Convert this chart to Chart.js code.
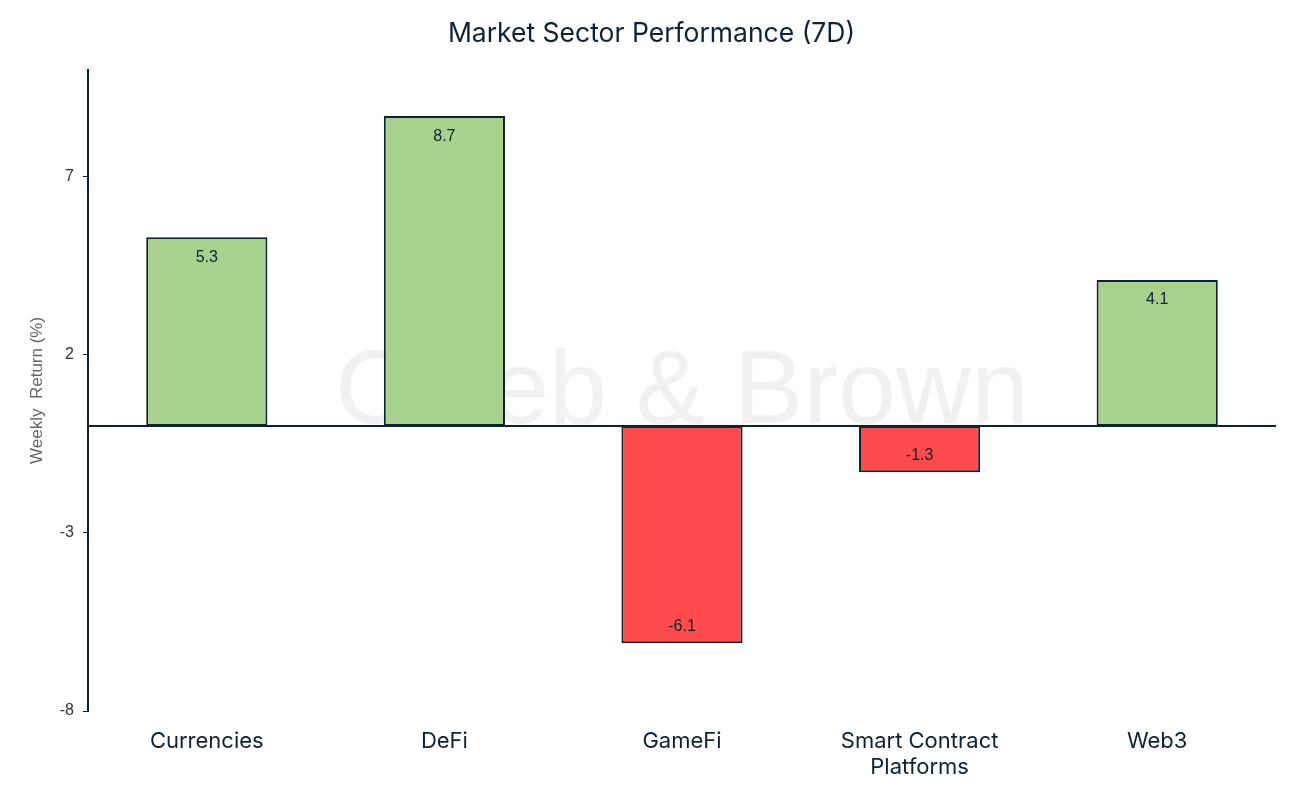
<!DOCTYPE html>
<html>
<head>
<meta charset="utf-8">
<script src="https://cdn.jsdelivr.net/npm/chart.js@4.4.0/dist/chart.umd.min.js"></script>
<style>
  html,body{margin:0;padding:0;background:#fff;}
  #wrap{width:1298px;height:792px;}
</style>
</head>
<body>
<div id="wrap"><canvas id="c"></canvas></div>
<script>
// sectors + 7-day returns
const sectors=['Currencies','DeFi','GameFi',['Smart Contract','Platforms'],'Web3'];
const returns=[5.3,8.7,-6.1,-1.3,4.1];
const yTicks=[-8,-3,2,7];

const NAVY='#0e2233', GREEN='#a9d18e', RED='#ff4b4b';

// watermark + zero line + value labels
const extras={
  id:'extras',
  beforeDatasetsDraw(ch){
    const {ctx,chartArea:a}=ch;
    ctx.save();
    ctx.fillStyle='#f1f1f1';
    ctx.font='104px "Liberation Sans", Arial, sans-serif';
    ctx.textAlign='center';ctx.textBaseline='middle';
    ctx.fillText('Caleb & Brown',(a.left+a.right)/2,(a.top+a.bottom)/2+4);
    ctx.restore();
  },
  afterDatasetsDraw(ch){
    const {ctx,chartArea:a,scales:{y}}=ch;
    const y0=y.getPixelForValue(0);
    ctx.save();
    ctx.strokeStyle=NAVY;ctx.lineWidth=2;
    ctx.beginPath();ctx.moveTo(a.left,y0);ctx.lineTo(a.right,y0);ctx.stroke();
    ctx.fillStyle=NAVY;
    ctx.font='16px "Liberation Sans", Arial, sans-serif';
    ctx.textAlign='center';ctx.textBaseline='middle';
    ch.getDatasetMeta(0).data.forEach((b,i)=>{
      const v=returns[i];
      const ty=v>=0? b.y+20 : b.y-17;
      ctx.fillText(v.toFixed(1),b.x,ty);
    });
    ctx.restore();
  }
};

new Chart(document.getElementById('c'),{
  type:'bar',
  data:{labels:sectors,datasets:[{
    data:returns,
    backgroundColor:returns.map(v=>v>=0?GREEN:RED),
    borderColor:NAVY,borderWidth:2,borderSkipped:false,
    barPercentage:0.51,categoryPercentage:1
  }]},
  options:{
    responsive:true,maintainAspectRatio:false,animation:false,
    layout:{padding:{left:27,right:22,top:0,bottom:0}},
    plugins:{
      legend:{display:false},tooltip:{enabled:false},
      title:{display:true,text:'Market Sector Performance (7D)',color:NAVY,
        font:{family:'Inter, "Liberation Sans", sans-serif',size:26.5,weight:'normal'},
        padding:{top:18,bottom:20}}
    },
    scales:{
      x:{
        grid:{display:false},border:{display:false},
        ticks:{color:NAVY,font:{family:'Inter, "Liberation Sans", sans-serif',size:22},lineHeight:1.22,padding:9,maxRotation:0},
        afterFit(s){s.height=81;}
      },
      y:{
        min:-8,max:10,
        afterBuildTicks(s){s.ticks=yTicks.map(v=>({value:v}));},
        grid:{drawOnChartArea:false,drawTicks:true,tickLength:5,color:NAVY},
        border:{display:true,color:NAVY,width:2},
        ticks:{color:'#2a3440',font:{family:'"Liberation Sans", Arial, sans-serif',size:16},padding:9},
        title:{display:true,text:'Weekly  Return (%)',color:'#666',
          font:{family:'"Liberation Sans", Arial, sans-serif',size:17},padding:{top:0,bottom:0}},
        afterFit(s){s.width=61;}
      }
    }
  },
  plugins:[extras]
});
</script>
</body>
</html>
